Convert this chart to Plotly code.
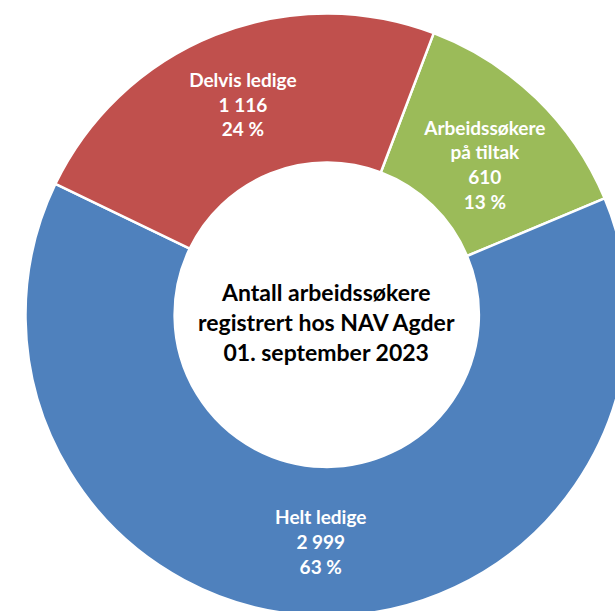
import plotly.graph_objects as go

# Data
labels = ["Arbeidssøkere<br>på tiltak", "Helt ledige", "Delvis ledige"]
values = [610, 2999, 1116]
colors = ["#9BBB59", "#4F81BD", "#C0504D"]
center_title = "Antall arbeidssøkere<br>registrert hos NAV Agder<br>01. september 2023"

total = sum(values)
pct = [round(v / total * 100) for v in values]

# The donut is a bit bigger than the window in the original, so the figure is too
W, H = 628, 616
dom_x = [25.5 / W, 1.0]
dom_y = [0.0, 602.5 / H]

label_tpl = "%{label}<br>%{value:,}<br>%{customdata} %"
# green label sits a little lower in the original
templates = ["&nbsp;<br>" + label_tpl, label_tpl, label_tpl]

fig = go.Figure(
    go.Pie(
        labels=labels,
        values=values,
        customdata=pct,
        sort=False,
        direction="clockwise",
        rotation=20.8,
        hole=0.505,
        marker=dict(colors=colors, line=dict(color="white", width=2.5)),
        texttemplate=templates,
        textposition="inside",
        insidetextorientation="horizontal",
        textfont=dict(family="Lato", size=19, color="white", weight="bold"),
        domain=dict(x=dom_x, y=dom_y),
        hoverinfo="label+value+percent",
        showlegend=False,
    )
)

# text in the hole, a touch below the centre as in the original
fig.add_annotation(
    text=center_title,
    x=sum(dom_x) / 2,
    y=1 - 321.5 / H,
    xref="paper",
    yref="paper",
    xanchor="center",
    yanchor="middle",
    showarrow=False,
    font=dict(family="Lato", size=23, color="black", weight="bold"),
)

fig.update_layout(
    width=W,
    height=H,
    margin=dict(l=0, r=0, t=0, b=0),
    paper_bgcolor="white",
    separators=", ",
    uniformtext=dict(minsize=19, mode="show"),
)

# no page margin, and clip the part of the donut that runs past the window
fig.write_html(
    "out.html",
    config={"displayModeBar": False},
    post_script="document.body.style.margin='0';document.body.style.overflow='hidden';",
)
